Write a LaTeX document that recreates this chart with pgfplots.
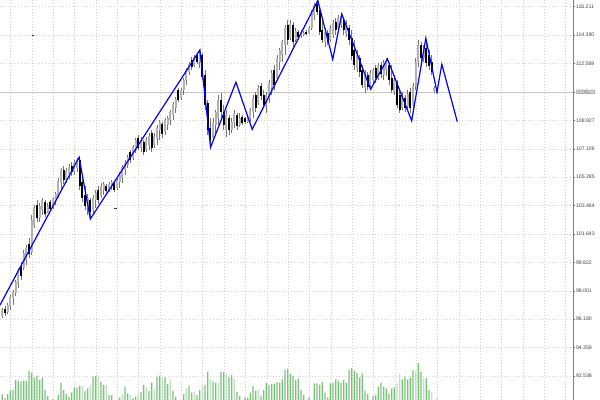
\documentclass[border=0pt]{standalone}
\usepackage{pgfplots}
\pgfplotsset{compat=1.18}
\usepackage{pgfplotstable}
\usepackage{fontspec}
\setmainfont{Liberation Sans}
\definecolor{volg}{RGB}{120,195,120}
\definecolor{volgl}{RGB}{190,225,190}
\definecolor{gridc}{RGB}{208,208,208}

\pgfplotstableread{
i o h l c
0 96.38 96.90 96.26 96.77
1 96.83 97.03 96.38 96.58
2 96.64 97.22 96.51 97.09
3 97.03 97.73 96.77 97.60
4 97.54 98.05 97.09 97.92
5 97.86 98.69 97.67 98.56
6 98.50 99.46 98.18 99.33
7 99.59 99.85 98.69 98.95
8 99.46 100.61 99.33 100.42
9 99.97 100.94 99.65 100.74
10 101.00 101.38 100.10 100.36
11 100.49 102.86 100.29 102.54
12 102.22 103.50 102.03 103.31
13 103.50 103.82 102.41 102.67
14 102.67 103.63 102.41 103.44
15 103.18 103.95 102.86 103.82
16 103.69 103.82 102.73 102.92
17 103.05 103.63 102.99 103.44
18 103.69 103.82 103.18 103.24
19 103.37 104.01 103.24 103.88
20 103.82 104.33 103.50 104.20
21 104.08 105.23 103.95 105.04
22 104.91 105.87 104.46 105.74
23 105.74 106.00 104.85 105.10
24 105.10 105.87 104.91 105.68
25 105.49 106.13 105.17 105.94
26 106.00 106.26 105.36 105.61
27 105.61 106.38 105.42 106.19
28 105.87 106.51 105.61 106.38
29 106.38 106.58 104.46 104.72
30 104.97 105.23 103.69 103.95
31 104.14 104.72 103.18 103.44
32 103.31 104.20 102.86 103.95
33 103.82 103.95 102.60 103.05
34 103.18 104.14 102.92 103.95
35 103.82 104.46 103.31 104.27
36 104.46 104.72 103.56 103.82
37 104.08 104.91 103.95 104.72
38 104.46 104.97 104.14 104.85
39 104.72 104.85 104.27 104.40
40 104.46 104.97 104.33 104.85
41 104.72 105.10 104.46 104.97
42 104.91 104.97 104.33 104.46
43 104.59 105.23 104.46 105.10
44 104.97 105.61 104.59 105.42
45 105.23 106.06 104.91 105.94
46 105.74 106.38 105.42 106.19
47 106.06 106.70 105.87 106.58
48 106.90 107.02 106.19 106.38
49 106.51 107.35 106.38 107.22
50 107.02 107.79 106.83 107.67
51 107.79 107.99 107.02 107.15
52 107.15 107.86 106.90 107.67
53 107.54 107.67 106.70 106.90
54 107.02 107.86 106.90 107.67
55 107.35 108.11 107.02 107.92
56 108.11 108.31 106.90 107.15
57 107.35 108.11 107.15 107.92
58 107.79 108.63 107.35 108.43
59 108.31 108.95 107.67 108.82
60 108.69 108.82 107.79 108.05
61 108.18 109.08 107.99 108.95
62 108.63 109.20 108.31 109.08
63 108.95 109.59 108.63 109.46
64 109.27 110.10 108.95 109.97
65 109.72 110.42 109.40 110.29
66 110.87 111.00 110.10 110.23
67 110.36 111.00 110.23 110.87
68 110.87 111.64 110.55 111.51
69 111.51 112.28 111.19 112.15
70 112.02 112.67 111.83 112.54
71 112.79 112.99 112.15 112.35
72 112.47 113.11 112.35 112.99
73 113.11 113.24 112.54 112.67
74 112.67 113.43 112.28 113.24
75 113.11 113.24 111.51 111.70
76 111.83 112.15 109.59 109.91
77 110.04 110.23 107.99 108.31
78 108.43 109.08 107.22 107.67
79 107.79 109.08 107.67 108.82
80 108.63 109.59 107.99 109.46
81 109.08 110.55 108.63 110.23
82 110.23 110.68 109.08 109.46
83 109.46 109.91 108.31 108.63
84 108.31 109.59 107.86 109.27
85 109.08 109.27 107.99 108.31
86 108.31 109.08 108.11 108.82
87 108.82 109.59 108.43 109.33
88 109.27 109.40 108.31 108.56
89 108.63 109.40 108.50 109.08
90 109.14 109.27 108.63 108.76
91 109.08 109.14 108.69 108.82
92 108.82 109.20 108.76 109.08
93 109.01 109.72 108.82 109.59
94 109.46 110.55 109.08 110.36
95 110.55 110.74 109.46 109.72
96 110.04 111.19 109.91 111.00
97 111.13 111.32 110.23 110.49
98 110.55 110.87 109.72 109.91
99 109.91 110.74 109.40 110.55
100 110.36 111.51 110.04 111.32
101 111.00 112.15 110.55 111.96
102 112.15 112.47 110.87 111.19
103 111.64 113.11 111.51 112.92
104 112.67 113.56 112.15 113.43
105 113.11 114.08 112.67 113.95
106 113.76 115.04 113.11 114.85
107 115.04 115.36 113.76 114.08
108 114.20 115.36 114.08 115.10
109 115.04 115.23 113.63 113.95
110 114.08 114.85 113.95 114.65
111 114.59 114.72 114.08 114.27
112 114.33 114.72 114.20 114.59
113 114.40 114.65 114.33 114.52
114 114.59 114.72 114.40 114.46
115 114.52 114.97 114.46 114.85
116 114.85 116.00 114.72 115.81
117 115.68 116.45 115.36 116.32
118 116.38 116.62 115.68 115.87
119 116.00 116.19 114.40 114.59
120 114.72 115.36 113.88 114.08
121 113.95 114.85 113.63 114.59
122 114.52 114.72 113.76 113.95
123 114.08 115.04 113.95 114.85
124 114.40 115.36 114.20 115.17
125 115.23 115.49 114.40 114.72
126 114.85 115.68 114.72 115.49
127 115.04 115.81 114.85 115.61
128 115.36 115.49 114.40 114.72
129 114.46 115.36 114.27 115.10
130 114.85 115.04 113.76 114.08
131 114.20 114.72 112.79 113.05
132 113.43 114.08 112.15 112.47
133 112.28 113.43 112.02 113.11
134 112.92 113.11 111.70 112.02
135 112.15 112.47 111.00 111.19
136 111.00 112.15 110.68 111.83
137 111.83 112.02 110.87 111.06
138 111.19 112.15 111.06 111.96
139 111.51 112.28 111.19 112.15
140 112.28 112.47 111.32 111.64
141 111.64 112.60 111.51 112.41
142 112.47 112.67 111.64 111.90
143 111.83 112.79 111.51 112.60
144 112.15 112.92 111.77 112.73
145 112.47 112.60 111.19 111.51
146 111.64 112.47 110.68 110.87
147 110.74 111.83 110.55 111.51
148 111.38 111.51 109.72 109.91
149 110.55 110.87 109.40 109.59
150 109.72 110.74 109.59 110.49
151 110.36 110.55 109.46 109.72
152 109.85 110.87 109.59 110.61
153 110.74 111.00 109.40 109.72
154 109.91 111.32 109.72 111.13
155 111.13 112.92 110.87 112.67
156 112.67 114.08 112.35 113.76
157 113.76 113.95 112.47 112.92
158 112.92 113.76 112.67 113.56
159 113.56 113.88 112.35 112.60
160 113.11 113.43 112.15 112.41
161 112.67 113.11 111.83 112.02
162 110.81 111.13 110.68 111.00
163 110.90 111.00 110.68 110.75
}\candles

\pgfplotstableread{
i v t
0 57 0
1 17 0
2 60 0
3 93 0
4 100 0
5 200 0
6 190 0
7 183 0
8 190 0
9 193 0
10 290 0
11 273 0
12 223 0
13 243 0
14 200 0
15 223 0
16 100 0
17 40 0
19 10 0
21 50 0
22 173 0
23 100 0
24 60 0
25 30 0
26 77 0
27 123 0
28 123 0
29 140 0
30 140 1
31 90 0
32 117 0
33 150 1
34 233 0
35 240 0
36 233 1
37 183 0
38 150 0
39 150 1
40 47 0
41 47 0
44 27 0
45 60 1
46 133 0
47 67 0
48 50 1
49 20 0
50 33 0
51 73 1
52 80 0
53 150 0
54 130 1
55 90 0
56 173 0
57 100 1
58 233 0
59 243 0
60 223 1
61 227 0
62 160 0
63 207 1
64 90 0
65 33 0
68 60 0
69 117 1
70 140 0
71 73 0
72 80 1
73 50 0
74 100 0
75 140 1
76 150 0
77 280 0
78 210 1
79 187 0
80 173 0
81 173 1
82 280 0
83 280 0
84 267 1
85 230 0
86 250 0
87 210 1
88 80 0
89 43 0
91 27 0
92 23 0
93 73 0
94 140 0
95 93 0
96 100 1
97 43 0
98 100 0
99 173 0
100 150 0
101 160 0
102 160 0
103 180 0
104 173 0
105 207 0
106 300 0
107 310 0
108 263 0
109 240 0
110 200 0
111 213 0
112 100 0
113 50 0
115 27 0
117 167 0
118 167 0
119 150 0
120 180 0
121 73 0
122 27 0
123 167 0
124 173 0
125 207 0
126 193 0
127 173 0
128 200 0
129 173 0
130 300 0
131 317 0
132 293 0
133 273 0
134 227 0
135 267 0
136 93 0
137 60 0
139 40 0
140 50 0
141 133 0
142 173 0
143 133 0
144 117 0
145 67 0
146 117 0
147 127 0
148 160 1
149 260 1
150 207 0
151 233 0
152 207 0
153 227 0
154 300 0
155 290 1
156 367 0
157 283 0
158 217 1
159 217 0
160 100 0
161 73 1
163 27 1
}\volumes

\begin{document}
\begin{tikzpicture}
\begin{axis}[
  at={(0,0)}, anchor=south west,
  scale only axis, width=573.3bp, height=400bp,
  xmin=-0.86, xmax=214.1, ymin=91.0, ymax=116.64,
  enlargelimits=false,
  axis line style={draw=none},
  xtick={3.15,11.15,...,211.15}, xticklabels={}, xtick style={draw=none},
  ytick={92.538,94.359,96.180,98.001,99.822,101.643,103.464,105.285,107.106,108.927,110.748,112.569,114.390,116.211},
  yticklabel pos=right, ytick pos=right,
  tick align=outside, major tick length=2bp,
  ytick style={black!55, line width=0.4bp},
  yticklabel style={font=\fontsize{5.2}{6}\selectfont, text=black!75, inner sep=0.5bp, anchor=west,
    /pgf/number format/fixed, /pgf/number format/fixed zerofill, /pgf/number format/precision=3,
    /pgf/number format/assume math mode=true},
  grid=major,
  grid style={gridc, line width=0.45bp, dash pattern=on 0.9bp off 2.1bp},
  clip mode=individual,
]
% current price line
\addplot[black!22, line width=0.7bp, forget plot] coordinates {(-0.86,110.748) (214.1,110.748)};
% wicks
\addplot[draw=none, mark=none, forget plot,
  error bars/.cd, y dir=plus, y explicit, error mark=none,
  error bar style={draw=black!55, line width=0.55bp, solid}]
  table[x=i, y=l, y error expr=\thisrow{h}-\thisrow{l}] {\candles};
% bull bodies
\addplot[draw=none, mark=none, forget plot,
  restrict expr to domain={\thisrow{c}-\thisrow{o}}{0:50},
  error bars/.cd, y dir=plus, y explicit, error mark=none,
  error bar style={draw=black!30, line width=1.8bp, solid}]
  table[x=i, y expr={min(\thisrow{o},\thisrow{c})}, y error expr={abs(\thisrow{c}-\thisrow{o})}] {\candles};
% bear bodies
\addplot[draw=none, mark=none, forget plot,
  restrict expr to domain={\thisrow{c}-\thisrow{o}}{-50:0},
  error bars/.cd, y dir=plus, y explicit, error mark=none,
  error bar style={draw=black, line width=1.8bp, solid}]
  table[x=i, y expr={min(\thisrow{o},\thisrow{c})}, y error expr={abs(\thisrow{c}-\thisrow{o})}] {\candles};
% stray ticks
\addplot[only marks, mark=-, mark size=1.4bp, black!80, forget plot] coordinates {(11.5,114.40) (42.4,103.31)};
% zigzag
\addplot[blue, line width=1.2bp] coordinates {
(-0.86,97.09) (28.8,106.56) (33.0,102.60) (74.1,113.44) (78.1,107.20)
(87.6,111.37) (93.7,108.35) (118.3,116.62) (123.9,112.84) (127.3,115.74)
(138.1,110.92) (144.4,112.86) (153.5,108.90) (158.8,114.19) (163.0,110.74)
(164.8,112.52) (170.6,108.84)};
\draw[black!50, line width=0.8bp] (rel axis cs:1,0) -- (rel axis cs:1,1);
\node[fill=black!32, text=white, font=\fontsize{5.2}{6}\selectfont, inner sep=0.5bp, anchor=west]
  at ([xshift=2bp]axis cs:214.1,110.748) {110.748};
\end{axis}
\begin{axis}[
  at={(0,0)}, anchor=south west,
  scale only axis, width=573.3bp, height=400bp,
  xmin=-0.86, xmax=214.1, ymin=0, ymax=4000,
  hide axis,
]
\addplot[ybar, bar width=1.3bp, bar shift=0pt, fill=volg, draw=none,
  restrict expr to domain={\thisrow{t}}{0:0}] table[x=i, y=v] {\volumes};
\addplot[ybar, bar width=1.3bp, bar shift=0pt, fill=volgl, draw=none,
  restrict expr to domain={\thisrow{t}}{1:1}] table[x=i, y=v] {\volumes};
\end{axis}
\pgfresetboundingbox
\path (0,0) rectangle (600bp,400bp);
\end{tikzpicture}
\end{document}
